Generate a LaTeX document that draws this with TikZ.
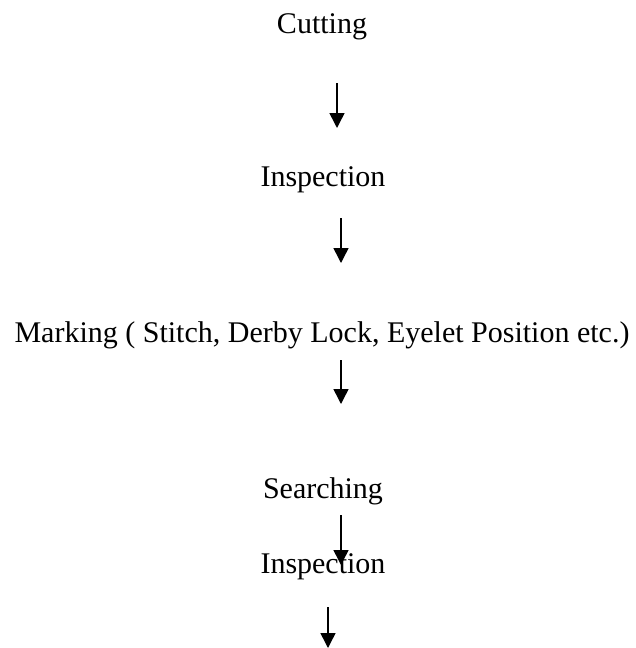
\documentclass[tikz,border=0pt]{standalone}
\usepackage{fontspec}
\setmainfont{Liberation Serif}
\usetikzlibrary{arrows.meta}
\tikzset{
  lbl/.style={anchor=base,inner sep=0pt,font=\fontsize{30pt}{36pt}\selectfont},
  flow/.style={line width=1.5pt,-{Triangle[width=15pt,length=15pt]}}
}
\begin{document}
\begin{tikzpicture}[x=1pt,y=1pt]
\useasboundingbox (0,0) rectangle (636,-648);
\node[lbl] (cut) at (322,-33) {Cutting};
\node[lbl] (insp1) at (323,-186) {Inspection};
\node[lbl] (mark) at (322,-342) {Marking ( Stitch, Derby Lock, Eyelet Position etc.)};
\node[lbl] (search) at (323,-498) {Searching};
\node[lbl] (insp2) at (323,-573) {Inspection};
\coordinate (a1s) at (337,-83);  \coordinate (a1e) at (337,-128);
\coordinate (a2s) at (341,-218); \coordinate (a2e) at (341,-263);
\coordinate (a3s) at (341,-360); \coordinate (a3e) at (341,-404);
\coordinate (a4s) at (341,-515); \coordinate (a4e) at (341,-565);
\coordinate (a5s) at (328,-607); \coordinate (a5e) at (328,-648);
\draw[flow] (a1s) -- (a1e);
\draw[flow] (a2s) -- (a2e);
\draw[flow] (a3s) -- (a3e);
\draw[flow] (a4s) -- (a4e);
\draw[flow] (a5s) -- (a5e);
\end{tikzpicture}
\end{document}
